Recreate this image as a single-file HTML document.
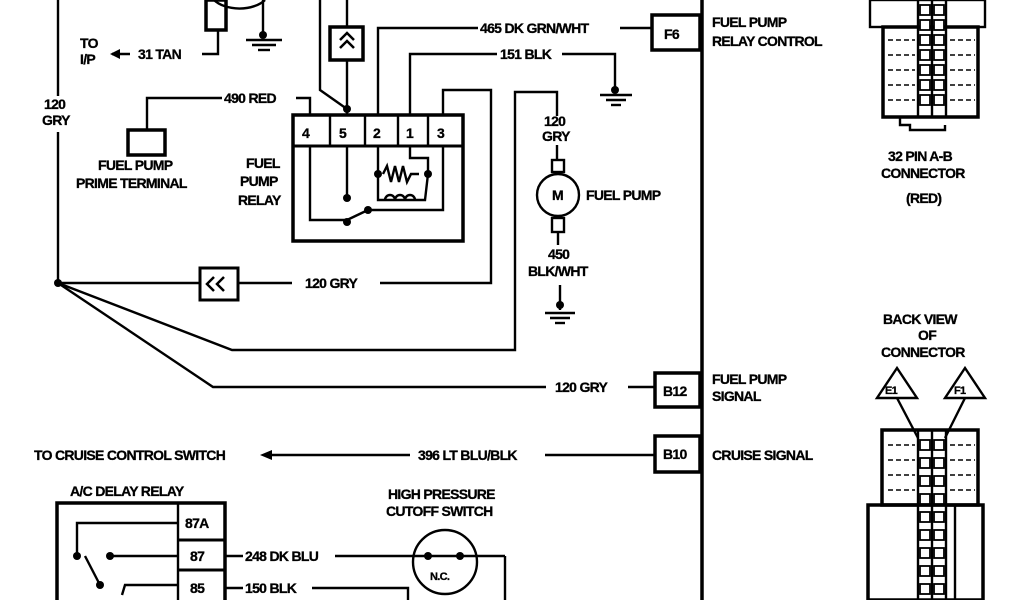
<!DOCTYPE html>
<html><head><meta charset="utf-8"><style>
html,body{margin:0;padding:0;background:#fff;}
svg{display:block;}
text{font-family:"Liberation Sans",sans-serif;font-weight:bold;font-size:14px;fill:#000;letter-spacing:-0.7px;stroke:#000;stroke-width:0.3px;}
</style></head><body>
<svg width="1024" height="600" viewBox="0 0 1024 600" xmlns="http://www.w3.org/2000/svg">
<g stroke="#000" stroke-width="2.4" fill="none">
<line x1="58" y1="0" x2="58" y2="96"/>
<line x1="58" y1="132" x2="58" y2="283"/>
<line x1="58" y1="283" x2="200" y2="283"/>
<line x1="238" y1="283" x2="292" y2="283"/>
<polyline points="380,283 491,283 491,90 443,90 443,115"/>
<polyline points="58,283 232,350 515,350 515,92 557,92 557,116"/>
<polyline points="58,283 213,387 546,387"/>
<line x1="628" y1="387" x2="655" y2="387"/>
<rect x="200" y="268" width="38" height="32" stroke-width="3"/>
<line x1="702" y1="0" x2="702" y2="600" stroke-width="3.5"/>
<rect x="652" y="15" width="48" height="35" stroke-width="3.5"/>
<rect x="655" y="373" width="45" height="34" stroke-width="3.5"/>
<rect x="655" y="436" width="45" height="36" stroke-width="3.5"/>
<line x1="268" y1="455" x2="410" y2="455"/>
<line x1="545" y1="455" x2="655" y2="455"/>
<rect x="293" y="115" width="170" height="126" stroke-width="3.5"/>
<line x1="293" y1="146" x2="463" y2="146" stroke-width="3"/>
<line x1="330" y1="115" x2="330" y2="146"/>
<line x1="365" y1="115" x2="365" y2="146"/>
<line x1="398" y1="115" x2="398" y2="146"/>
<line x1="428" y1="115" x2="428" y2="146"/>
<polyline points="310,115 310,98 296,98"/>
<polyline points="222,98 147,98 147,130"/>
<rect x="128" y="130" width="37" height="25" stroke-width="3.5"/>
<line x1="347" y1="115" x2="347" y2="60"/>
<rect x="330" y="27" width="33" height="33" stroke-width="3.5"/>
<line x1="347" y1="27" x2="347" y2="0"/>
<polyline points="347,109 320,90 320,0"/>
<polyline points="378,115 378,28 478,28"/>
<line x1="620" y1="28" x2="652" y2="28"/>
<polyline points="410,115 410,54 497,54"/>
<polyline points="562,54 615,54 615,92"/>
<line x1="600" y1="95" x2="632" y2="95"/><line x1="606" y1="100" x2="626" y2="100"/><line x1="611" y1="105" x2="621" y2="105"/>
<line x1="263" y1="0" x2="263" y2="37"/>
<line x1="246" y1="40" x2="282" y2="40"/><line x1="252" y1="45" x2="276" y2="45"/><line x1="258" y1="50" x2="270" y2="50"/>
<line x1="545" y1="313" x2="575" y2="313"/><line x1="550" y1="318" x2="570" y2="318"/><line x1="555" y1="323" x2="565" y2="323"/>
<line x1="560" y1="285" x2="560" y2="310"/>
<rect x="206" y="0" width="20" height="30" stroke-width="3.5"/>
<path d="M214,0 A30 18 0 0 0 265,0"/>
<polyline points="218,30 218,54 202,54"/>
<line x1="112" y1="54" x2="130" y2="54"/>
<polyline points="310,146 310,220 347,220"/>
<line x1="347" y1="146" x2="347" y2="198"/>
<line x1="347" y1="220" x2="368" y2="210"/>
<polyline points="368,210 443,210 443,146"/>
<polyline points="378,146 378,174 378,200 425,200 428,174 428,158 410,158 410,146"/>
<path d="M383,174 l4,-8 4,16 4,-16 4,16 4,-16 4,16 4,-8 8,0"/>
<path d="M385,200 a5,5 0 0 1 10,0 a5,5 0 0 1 10,0 a5,5 0 0 1 10,0"/>
<line x1="557" y1="145" x2="557" y2="160"/>
<rect x="552" y="160" width="12" height="12"/>
<circle cx="558" cy="195" r="21"/>
<rect x="552" y="218" width="12" height="14"/>
<line x1="558" y1="232" x2="558" y2="245"/>
<rect x="57" y="503" width="168" height="100" stroke-width="3.5"/>
<line x1="178" y1="503" x2="178" y2="600"/>
<line x1="178" y1="540" x2="225" y2="540" stroke-width="3"/>
<line x1="178" y1="570" x2="225" y2="570" stroke-width="3"/>
<polyline points="178,523 77,523 77,556"/>
<line x1="110" y1="556" x2="178" y2="556"/>
<line x1="85" y1="556" x2="100" y2="585"/>
<polyline points="178,585 125,585 122,595"/>
<line x1="225" y1="556" x2="243" y2="556"/>
<line x1="335" y1="556" x2="505" y2="556"/>
<line x1="505" y1="556" x2="505" y2="600"/>
<line x1="225" y1="588" x2="243" y2="588"/>
<polyline points="312,588 408,588 408,600"/>
<circle cx="445" cy="562" r="32"/>
<rect x="870" y="0" width="115" height="27"/>
<rect x="883" y="27" width="95" height="90" stroke-width="3.5"/>
<line x1="918" y1="0" x2="918" y2="117"/><line x1="932" y1="0" x2="932" y2="117"/><line x1="946" y1="0" x2="946" y2="117"/>
<path d="M900,117 v8 h10 v5 h35 v-5" />
<path d="M877,398 h40 l-20,-30 z"/>
<path d="M945,398 h40 l-20,-30 z"/>
<line x1="897" y1="398" x2="918" y2="438"/><line x1="965" y1="398" x2="945" y2="438"/>
<rect x="882" y="430" width="96" height="75" stroke-width="3.5"/>
<rect x="868" y="505" width="115" height="95" stroke-width="3.5"/>
<line x1="918" y1="430" x2="918" y2="600"/><line x1="932" y1="430" x2="932" y2="600"/><line x1="946" y1="430" x2="946" y2="600"/>
<line x1="955" y1="505" x2="955" y2="600"/>
</g>
<g stroke="#000" stroke-width="1.5" stroke-dasharray="5,3">
<line x1="888" y1="40" x2="915" y2="40"/><line x1="950" y1="40" x2="975" y2="40"/>
<line x1="888" y1="55" x2="915" y2="55"/><line x1="950" y1="55" x2="975" y2="55"/>
<line x1="888" y1="70" x2="915" y2="70"/><line x1="950" y1="70" x2="975" y2="70"/>
<line x1="888" y1="85" x2="915" y2="85"/><line x1="950" y1="85" x2="975" y2="85"/>
<line x1="888" y1="100" x2="915" y2="100"/><line x1="950" y1="100" x2="975" y2="100"/>
<line x1="888" y1="445" x2="915" y2="445"/><line x1="950" y1="445" x2="975" y2="445"/>
<line x1="888" y1="460" x2="915" y2="460"/><line x1="950" y1="460" x2="975" y2="460"/>
<line x1="888" y1="475" x2="915" y2="475"/><line x1="950" y1="475" x2="975" y2="475"/>
<line x1="888" y1="490" x2="915" y2="490"/><line x1="950" y1="490" x2="975" y2="490"/>
</g>
<g stroke="#000" stroke-width="1.8" fill="#fff">
<rect x="920" y="5" width="10" height="10"/><rect x="934" y="5" width="10" height="10"/>
<rect x="920" y="20" width="10" height="10"/><rect x="934" y="20" width="10" height="10"/>
<rect x="920" y="35" width="10" height="10"/><rect x="934" y="35" width="10" height="10"/>
<rect x="920" y="50" width="10" height="10"/><rect x="934" y="50" width="10" height="10"/>
<rect x="920" y="65" width="10" height="10"/><rect x="934" y="65" width="10" height="10"/>
<rect x="920" y="80" width="10" height="10"/><rect x="934" y="80" width="10" height="10"/>
<rect x="920" y="95" width="10" height="10"/><rect x="934" y="95" width="10" height="10"/>
<rect x="920" y="440" width="10" height="10"/><rect x="934" y="440" width="10" height="10"/>
<rect x="920" y="458" width="10" height="10"/><rect x="934" y="458" width="10" height="10"/>
<rect x="920" y="476" width="10" height="10"/><rect x="934" y="476" width="10" height="10"/>
<rect x="920" y="494" width="10" height="10"/><rect x="934" y="494" width="10" height="10"/>
<rect x="920" y="512" width="10" height="10"/><rect x="934" y="512" width="10" height="10"/>
<rect x="920" y="530" width="10" height="10"/><rect x="934" y="530" width="10" height="10"/>
<rect x="920" y="548" width="10" height="10"/><rect x="934" y="548" width="10" height="10"/>
<rect x="920" y="566" width="10" height="10"/><rect x="934" y="566" width="10" height="10"/>
<rect x="920" y="584" width="10" height="10"/><rect x="934" y="584" width="10" height="10"/>
</g>
<g fill="#000">
<circle cx="58" cy="283" r="4"/>
<circle cx="347" cy="109" r="4"/>
<circle cx="615" cy="90" r="4"/><circle cx="263" cy="35" r="4"/><circle cx="560" cy="305" r="4"/>
<circle cx="347" cy="198" r="4"/><circle cx="347" cy="222" r="4"/><circle cx="368" cy="210" r="4"/>
<circle cx="378" cy="174" r="4"/><circle cx="428" cy="174" r="4"/>
<circle cx="77" cy="556" r="4"/><circle cx="110" cy="556" r="4"/><circle cx="100" cy="585" r="4"/>
<circle cx="428" cy="556" r="4"/><circle cx="460" cy="556" r="4"/>
<path d="M110,54 l10,-5 v10 z"/>
<path d="M260,455 l12,-5 v10 z"/>
</g>
<g stroke="#000" stroke-width="2.5" fill="none">
<path d="M214,277 l-7,7 7,7 M224,277 l-7,7 7,7"/>
<path d="M340,48 l7,-7 7,7 M340,40 l7,-7 7,7"/>
</g>
<text x="80" y="48">TO</text><text x="80" y="64">I/P</text>
<text x="138" y="59">31 TAN</text>
<text x="44" y="109">120</text><text x="42" y="125">GRY</text>
<text x="224" y="103">490 RED</text>
<text x="98" y="170">FUEL PUMP</text>
<text x="76" y="188">PRIME TERMINAL</text>
<text x="246" y="168">FUEL</text><text x="240" y="186">PUMP</text><text x="238" y="205">RELAY</text>
<text x="302" y="138">4</text><text x="339" y="138">5</text><text x="373" y="138">2</text><text x="406" y="138">1</text><text x="437" y="138">3</text>
<text x="480" y="33">465 DK GRN/WHT</text>
<text x="500" y="59">151 BLK</text>
<text x="664" y="39">F6</text>
<text x="544" y="126">120</text><text x="542" y="141">GRY</text>
<text x="552" y="200">M</text>
<text x="586" y="200">FUEL PUMP</text>
<text x="548" y="259">450</text><text x="528" y="276">BLK/WHT</text>
<text x="305" y="288">120 GRY</text>
<text x="555" y="392">120 GRY</text>
<text x="663" y="396">B12</text>
<text x="34" y="460">TO CRUISE CONTROL SWITCH</text>
<text x="418" y="460">396 LT BLU/BLK</text>
<text x="663" y="459">B10</text>
<text x="712" y="27">FUEL PUMP</text><text x="712" y="46">RELAY CONTROL</text>
<text x="712" y="384">FUEL PUMP</text><text x="712" y="401">SIGNAL</text>
<text x="712" y="460">CRUISE SIGNAL</text>
<text x="888" y="161">32 PIN A-B</text><text x="881" y="178">CONNECTOR</text>
<text x="906" y="203">(RED)</text>
<text x="883" y="324">BACK VIEW</text><text x="918" y="340">OF</text><text x="881" y="357">CONNECTOR</text>
<text x="885" y="394" style="font-size:11px">E1</text><text x="954" y="394" style="font-size:11px">F1</text>
<text x="70" y="496">A/C DELAY RELAY</text>
<text x="185" y="528">87A</text><text x="190" y="561">87</text><text x="190" y="593">85</text>
<text x="245" y="561">248 DK BLU</text>
<text x="245" y="593">150 BLK</text>
<text x="388" y="499">HIGH PRESSURE</text><text x="386" y="516">CUTOFF SWITCH</text>
<text x="430" y="580" style="font-size:11px">N.C.</text>
</svg>
</body></html>
